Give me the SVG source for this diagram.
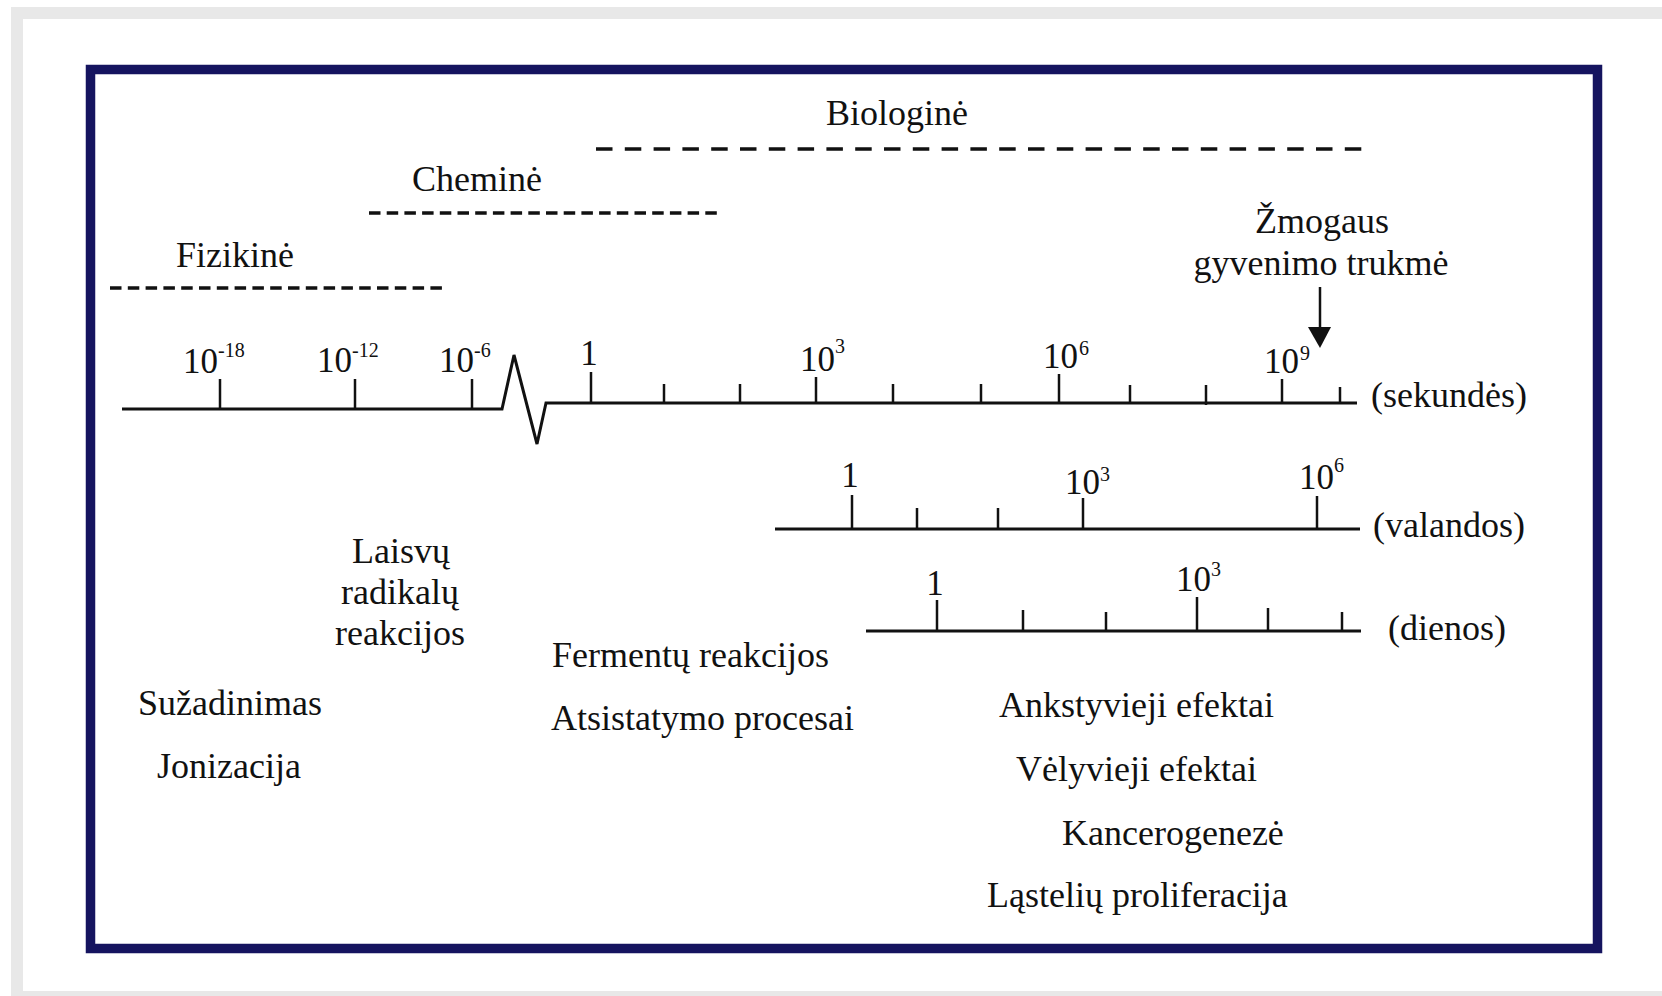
<svg xmlns="http://www.w3.org/2000/svg" width="1662" height="996" viewBox="0 0 1662 996">
<defs>
<style>
text{font-family:"Liberation Serif","Times New Roman",serif;fill:#111;font-size:36px}
.num{font-size:35px}
.sup{font-size:20px}
.mid{text-anchor:middle}
.axis{stroke:#111;stroke-width:3;fill:none}
.tick{stroke:#111;stroke-width:2.5}
.dash{stroke:#111;stroke-width:3.5;fill:none}
</style>
</defs>
<rect x="0" y="0" width="1662" height="996" fill="#fff"/>
<g id="frame">
<rect x="11" y="7" width="1651" height="12" fill="#e8e8e8"/>
<rect x="11" y="7" width="12" height="989" fill="#e8e8e8"/>
<rect x="11" y="991" width="1651" height="5" fill="#e8e8e8"/>
<rect x="90.5" y="69.5" width="1507" height="879" fill="none" stroke="#15145f" stroke-width="9.5"/>
</g>
<g id="phases">
<g id="fizikine">
<text x="176" y="267">Fizikinė</text>
<line class="dash" x1="110" y1="288" x2="445" y2="288" stroke-dasharray="11.5 6.3"/>
</g>
<g id="chemine">
<text x="412" y="191">Cheminė</text>
<line class="dash" x1="369" y1="213" x2="723" y2="213" stroke-dasharray="11.5 6.2"/>
</g>
<g id="biologine">
<text x="826" y="125">Biologinė</text>
<line class="dash" x1="596" y1="149" x2="1367" y2="149" stroke-dasharray="16.5 12.3" stroke-width="3"/>
</g>
</g>
<g id="connectors">
<path class="axis" d="M122,409 L502,409 L514,355 L537,444 L546,403 L1357,403"/>
<g class="tick">
<line x1="220" y1="379" x2="220" y2="409"/>
<line x1="355" y1="379" x2="355" y2="409"/>
<line x1="472" y1="379" x2="472" y2="409"/>
<line x1="591" y1="372" x2="591" y2="403"/>
<line x1="664" y1="384" x2="664" y2="403"/>
<line x1="740" y1="384" x2="740" y2="403"/>
<line x1="816" y1="377" x2="816" y2="403"/>
<line x1="893" y1="384" x2="893" y2="403"/>
<line x1="981" y1="384" x2="981" y2="403"/>
<line x1="1059" y1="374" x2="1059" y2="403"/>
<line x1="1130" y1="385" x2="1130" y2="403"/>
<line x1="1206" y1="385" x2="1206" y2="405"/>
<line x1="1282" y1="379" x2="1282" y2="403"/>
<line x1="1340" y1="387" x2="1340" y2="403"/>
</g>
<line class="axis" x1="775" y1="529" x2="1360" y2="529"/>
<g class="tick">
<line x1="852" y1="495" x2="852" y2="529"/>
<line x1="917" y1="508" x2="917" y2="529"/>
<line x1="998" y1="508" x2="998" y2="529"/>
<line x1="1083" y1="498" x2="1083" y2="529"/>
<line x1="1317" y1="496" x2="1317" y2="529"/>
</g>
<line class="axis" x1="866" y1="631" x2="1361" y2="631"/>
<g class="tick">
<line x1="937" y1="600" x2="937" y2="631"/>
<line x1="1023" y1="610" x2="1023" y2="631"/>
<line x1="1106" y1="612" x2="1106" y2="631"/>
<line x1="1197" y1="597" x2="1197" y2="631"/>
<line x1="1268" y1="608" x2="1268" y2="631"/>
<line x1="1342" y1="612" x2="1342" y2="631"/>
</g>
<line x1="1320" y1="287" x2="1320" y2="330" stroke="#111" stroke-width="2.5"/>
<polygon points="1308,327 1331,327 1320,348" fill="#111"/>
</g>
<g id="scale-labels">
<text class="num" x="183" y="373">10</text><text class="sup" x="218" y="357">-18</text>
<text class="num" x="317" y="372">10</text><text class="sup" x="352" y="357">-12</text>
<text class="num" x="439" y="372">10</text><text class="sup" x="474" y="357">-6</text>
<text class="num mid" x="589" y="365">1</text>
<text class="num" x="800" y="371">10</text><text class="sup" x="835" y="353">3</text>
<text class="num" x="1043" y="368">10</text><text class="sup" x="1079" y="355">6</text>
<text class="num" x="1264" y="373">10</text><text class="sup" x="1300" y="360">9</text>
<text class="num mid" x="850" y="487">1</text>
<text class="num" x="1065" y="494">10</text><text class="sup" x="1100" y="481">3</text>
<text class="num" x="1299" y="489">10</text><text class="sup" x="1334" y="472">6</text>
<text class="num mid" x="935" y="595">1</text>
<text class="num" x="1176" y="591">10</text><text class="sup" x="1211" y="576">3</text>
<text x="1371" y="407">(sekundės)</text>
<text x="1373" y="537">(valandos)</text>
<text x="1388" y="640">(dienos)</text>
</g>
<g id="lifespan">
<text class="mid" x="1322" y="233">Žmogaus</text>
<text class="mid" x="1321" y="275">gyvenimo trukmė</text>
</g>
<g id="physical">
<text x="138" y="715">Sužadinimas</text>
<text x="157" y="778">Jonizacija</text>
</g>
<g id="chemical">
<text class="mid" x="401" y="563">Laisvų</text>
<text class="mid" x="400" y="604">radikalų</text>
<text class="mid" x="400" y="645">reakcijos</text>
</g>
<g id="biological">
<text x="552" y="667">Fermentų reakcijos</text>
<text x="551" y="730">Atsistatymo procesai</text>
</g>
<g id="effects">
<text x="999" y="717">Ankstyvieji efektai</text>
<text x="1016" y="781">Vėlyvieji efektai</text>
<text x="1062" y="845">Kancerogenezė</text>
<text x="987" y="907">Ląstelių proliferacija</text>
</g>
</svg>
